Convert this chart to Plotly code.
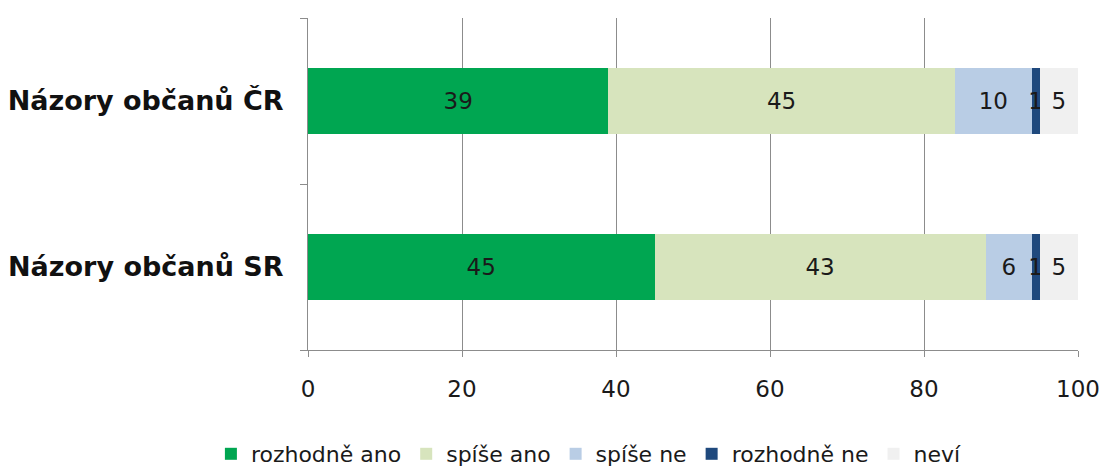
import plotly.graph_objects as go

categories = ["Názory občanů ČR", "Názory občanů SR"]
series_names = ["rozhodně ano", "spíše ano", "spíše ne", "rozhodně ne", "neví"]
values = {
    "rozhodně ano": [39, 45],
    "spíše ano": [45, 43],
    "spíše ne": [10, 6],
    "rozhodně ne": [1, 1],
    "neví": [5, 5],
}
colors = {
    "rozhodně ano": "#00A651",
    "spíše ano": "#D7E4BD",
    "spíše ne": "#B9CDE5",
    "rozhodně ne": "#1F497D",
    "neví": "#F0F0F0",
}
x_ticks = [0, 20, 40, 60, 80, 100]

fig = go.Figure()
for name in series_names:
    fig.add_trace(go.Bar(
        y=categories, x=values[name], name=name, orientation="h",
        marker=dict(color=colors[name], line=dict(width=0)),
        text=[str(v) for v in values[name]], textposition="inside",
        insidetextanchor="middle",
        textfont=dict(color="#1a1a1a", size=23, family="DejaVu Sans"),
    ))

fig.update_layout(
    barmode="stack", bargap=0.6,
    width=1110, height=475,
    margin=dict(l=308, r=32, t=18, b=125, autoexpand=False),
    paper_bgcolor="white", plot_bgcolor="white",
    font=dict(family="DejaVu Sans", size=20, color="#1a1a1a"),
    uniformtext=dict(minsize=23, mode="show"),
    showlegend=True,
    legend=dict(orientation="h", x=0.19, xref="container", xanchor="left",
                y=0.0, yref="container", yanchor="bottom",
                font=dict(size=22, color="#1a1a1a"),
                itemwidth=30, tracegroupgap=0, traceorder="normal"),
    xaxis=dict(range=[0, 100], tickvals=x_ticks, showgrid=True,
               gridcolor="#8c8c8c", gridwidth=1, showline=True,
               linecolor="#8c8c8c", linewidth=1, ticks="outside",
               ticklen=6, tickcolor="#8c8c8c", zeroline=False,
               tickfont=dict(size=23), ticklabelstandoff=12),
    yaxis=dict(categoryorder="array", categoryarray=categories[::-1],
               showline=True, linecolor="#8c8c8c", linewidth=1,
               ticks="outside", tickson="boundaries", ticklen=7,
               tickcolor="#8c8c8c", showgrid=False,
               tickfont=dict(size=27, family="DejaVu Sans", color="#111111"),
               ticklabelstandoff=18),
)
fig.update_yaxes(tickprefix="<b>", ticksuffix="</b>")
fig.write_html("out.html")
